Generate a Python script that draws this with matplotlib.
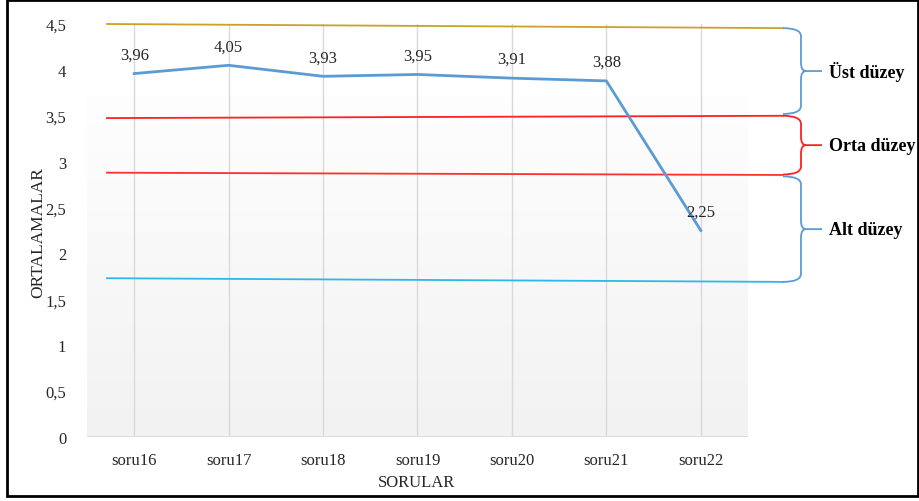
import numpy as np
import matplotlib
matplotlib.use("Agg")
import matplotlib.pyplot as plt
from matplotlib.path import Path
from matplotlib.patches import PathPatch, Rectangle

plt.rcParams['font.family'] = ['Liberation Serif', 'DejaVu Serif']

# Question means
questions = ["soru16", "soru17", "soru18", "soru19", "soru20", "soru21", "soru22"]
means = [3.96, 4.05, 3.93, 3.95, 3.91, 3.88, 2.25]
mean_labels = ["3,96", "4,05", "3,93", "3,95", "3,91", "3,88", "2,25"]

# y ticks
y_ticks = [0, 0.5, 1, 1.5, 2, 2.5, 3, 3.5, 4, 4.5]
y_tick_labels = ["0", "0,5", "1", "1,5", "2", "2,5", "3", "3,5", "4", "4,5"]

# Level boundary lines (value at left end, value at right end)
level_start = [4.50, 3.475, 2.88, 1.73]
level_end = [4.455, 3.50, 2.855, 1.69]
level_colors = ["#C9A227", "#FF2020", "#FF3030", "#2EB8E8"]

# Level groups
level_names = ["Üst düzey", "Orta düzey", "Alt düzey"]
level_tops = [4.455, 3.50, 2.84]
level_bottoms = [3.52, 2.86, 1.69]
brace_colors = ["#5B9BD5", "#FF2020", "#5B9BD5"]

TXT = "#262626"
W, H = 920, 502
fig = plt.figure(figsize=(W / 100, H / 100), dpi=100)
fig.patch.set_facecolor("white")

ax_l, ax_r, ax_t, ax_b = 87, 748, 25, 438
ax = fig.add_axes([ax_l / W, 1 - ax_b / H, (ax_r - ax_l) / W, (ax_b - ax_t) / H])
ax.set_xlim(-0.5, len(questions) - 0.5)
ax.set_ylim(0, 4.5)

# background gradient of the plot area
grad = np.linspace(0, 1, 256).reshape(-1, 1)
cmap = matplotlib.colors.LinearSegmentedColormap.from_list("bg", ["#f2f2f2", "#fefefe"])
ax.imshow(grad, extent=(-0.5, len(questions) - 0.5, 0, 3.71), origin="lower",
          aspect="auto", cmap=cmap, zorder=0)

x = np.arange(len(questions))
for xi in x:
    ax.axvline(xi, color="#d9d9d9", lw=1, zorder=1)
ax.axhline(0, color="#d9d9d9", lw=1.2, zorder=1)

ax.plot(x, means, color="#5B9BD5", lw=2, zorder=3)
for xi, v, lab in zip(x, means, mean_labels):
    ax.annotate(lab, (xi, v), xytext=(0, 8), textcoords="offset points",
                ha="center", va="bottom", fontsize=12, color=TXT, zorder=4)

for s in ax.spines.values():
    s.set_visible(False)
ax.set_xticks(x)
ax.set_xticklabels(questions, fontsize=12, color=TXT)
ax.set_yticks(y_ticks)
ax.set_yticklabels(y_tick_labels, fontsize=12, color=TXT)
ax.tick_params(length=0, pad=15, axis="y")
ax.tick_params(length=0, pad=11, axis="x")
ax.set_xlabel("SORULAR", fontsize=12, color=TXT)
ax.xaxis.set_label_coords((417 - ax_l) / (ax_r - ax_l), -(483 - ax_b) / (ax_b - ax_t))
ax.xaxis.label.set_va("center")
ax.set_ylabel("ORTALAMALAR", fontsize=12.5, color=TXT)
ax.yaxis.set_label_coords(-(ax_l - 38) / (ax_r - ax_l), (ax_b - 233) / (ax_b - ax_t))
ax.yaxis.label.set_va("center")


def px_to_x(px):
    return (px - ax_l) / (ax_r - ax_l) * len(questions) - 0.5


x_left = px_to_x(107)
x_right = px_to_x(783)
for ys, ye, c in zip(level_start, level_end, level_colors):
    ax.plot([x_left, x_right], [ys, ye], color=c, lw=1.3, clip_on=False, zorder=2)

xv = px_to_x(801)
xk = px_to_x(806)
xt = px_to_x(822)
r = 0.09
for name, yt, yb, c in zip(level_names, level_tops, level_bottoms, brace_colors):
    ym = (yt + yb) / 2
    verts = [(x_right, yt), (xv, yt), (xv, yt - r),
             (xv, ym + r), (xv, ym), (xk, ym),
             (xt, ym),
             (xk, ym), (xv, ym), (xv, ym - r),
             (xv, yb + r), (xv, yb), (x_right, yb)]
    codes = [Path.MOVETO, Path.CURVE3, Path.CURVE3,
             Path.LINETO, Path.CURVE3, Path.CURVE3,
             Path.LINETO,
             Path.MOVETO, Path.CURVE3, Path.CURVE3,
             Path.LINETO, Path.CURVE3, Path.CURVE3]
    ax.add_patch(PathPatch(Path(verts, codes), fill=False, edgecolor=c, lw=1.3,
                           clip_on=False, zorder=2))
    ax.text(px_to_x(829), ym, name, fontsize=13, fontweight="bold", ha="left",
            va="center", color="black", clip_on=False)

# outer frame
fig.add_artist(Rectangle((7 / W, 1 - 497 / H), (918 - 7) / W, (497 - 1) / H,
                         transform=fig.transFigure, fill=False, edgecolor="black", lw=2))

fig.savefig("out.png", dpi=100)
